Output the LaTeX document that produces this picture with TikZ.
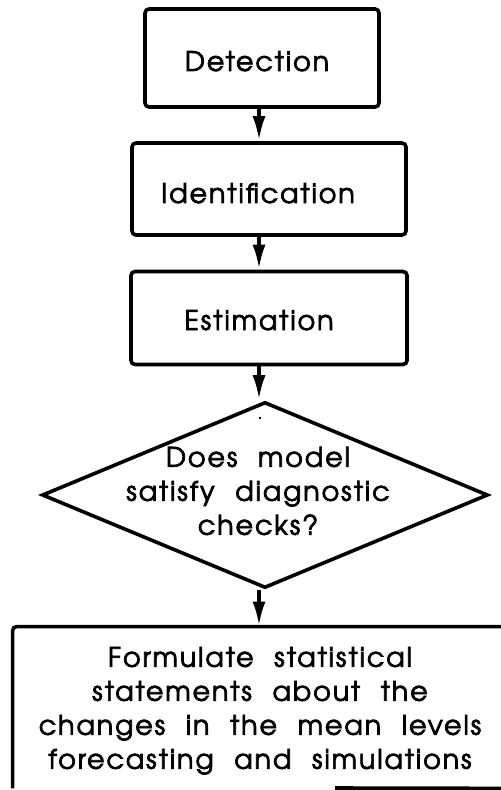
\documentclass[tikz,border=0pt]{standalone}
\usepackage{fontspec}
\setmainfont{texgyreadventor-regular.otf}[LetterSpace=7,FakeBold=2.6,WordSpace=2.2]
\usetikzlibrary{shapes.geometric,arrows.meta}
\begin{document}
\begin{tikzpicture}[x=0.5pt,y=-0.5pt,
  stepbox/.style={draw=black,line width=1.8pt,rounded corners=2pt,rectangle,inner sep=0pt},
  decision/.style={draw=black,line width=1.8pt,diamond,inner sep=0pt},
  txt/.style={inner sep=0pt,font=\fontsize{13.5}{17}\selectfont},
  arr/.style={line width=2pt,-{Latex[length=12.5pt,width=6.5pt]}}]
\useasboundingbox[fill=white] (0,0) rectangle (501,790);
\coordinate (spine) at (259,0);
% boxes
\node[stepbox,minimum width=117pt,minimum height=49pt] (det) at (262,58) {};
\node[stepbox,minimum width=137pt,minimum height=46pt] (ident) at (269,189) {};
\node[stepbox,minimum width=138pt,minimum height=46.5pt] (est) at (269,318) {};
\node[decision,minimum width=223pt,minimum height=93pt] (dec) at (265,495) {};
\node[rectangle,inner sep=0pt,minimum width=253.5pt,minimum height=80.5pt] (fin) at (266.5,707.5) {};
\draw[line width=1.8pt,rounded corners=2pt] (fin.south west) -- (fin.north west) -- (fin.north east) -- (fin.south east);
\coordinate (finbot) at (335,788);
\draw[line width=1.8pt] (finbot) -- (fin.south east);
% texts
\node[txt,anchor=base] (detT) at (257,71) {Detection};
\node[txt,anchor=base] (identT) at (258,203) {Identification};
\node[txt,anchor=base] (estT) at (259,330) {Estimation};
\node[txt] (decT) at (258,494) {\begin{tabular}{@{}c@{}}Does model\\satisfy diagnostic\\checks?\end{tabular}};
\node[txt] (finT) at (260,711) {\begin{tabular}{@{}c@{}}Formulate statistical\\statements about the\\changes in the mean levels\\forecasting and simulations\end{tabular}};
\fill (260,418) circle (1.3);
% arrows
\draw[arr] (det.south -| spine) -- (ident.north -| spine);
\draw[arr] (ident.south -| spine) -- (est.north -| spine);
\draw[arr] (est.south -| spine) -- (dec.north -| spine);
\draw[arr] (dec.south -| spine) -- (fin.north -| spine);
\end{tikzpicture}
\end{document}
